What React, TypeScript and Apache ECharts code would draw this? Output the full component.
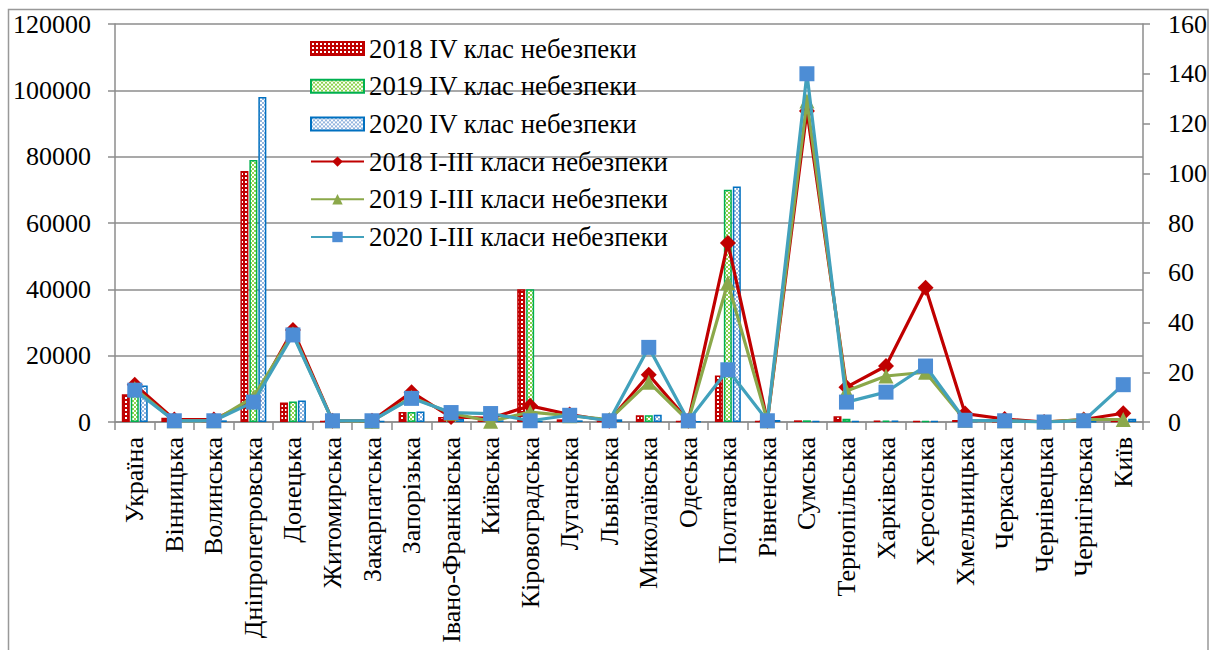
import React, { useEffect, useRef } from "react";
import * as echarts from "echarts";

const categories = [
  "Україна", "Вінницька", "Волинська", "Дніпропетровська", "Донецька", "Житомирська",
  "Закарпатська", "Запорізька", "Івано-Франківська", "Київська", "Кіровоградська",
  "Луганська", "Львівська", "Миколаївська", "Одеська", "Полтавська", "Рівненська",
  "Сумська", "Тернопільська", "Харківська", "Херсонська", "Хмельницька", "Черкаська",
  "Чернівецька", "Чернігівська", "Київ",
];

const bar2018 = [8400, 1300, 300, 75700, 5900, 300, 200, 3000, 1500, 500, 40000, 800, 300, 2000, 300, 14000, 300, 500, 1700, 400, 300, 600, 200, 200, 200, 300];
const bar2019 = [9500, 300, 300, 79000, 6200, 200, 200, 3000, 800, 300, 40000, 500, 300, 2000, 200, 70000, 300, 500, 1000, 400, 300, 300, 200, 200, 200, 300];
const bar2020 = [11000, 500, 500, 98000, 6500, 300, 300, 3200, 1000, 500, 300, 500, 800, 2200, 200, 71000, 600, 300, 300, 400, 300, 300, 200, 200, 200, 1000];

const line2018 = [15, 1, 1, 8.5, 37, 0.5, 0.5, 12, 2, 1.5, 6.5, 3, 0.5, 19, 0.5, 72, 0.5, 125, 14, 22.5, 54, 3.4, 1.2, 0, 1, 3.5];
const line2019 = [13.5, 0.5, 0.5, 10, 35.5, 0.5, 0.3, 10, 3.5, 0.3, 4, 2.5, 1, 16, 0.5, 56, 0.5, 129, 12.5, 18.5, 20, 0.7, 0.5, 0, 1, 1];
const line2020 = [12.8, 0.5, 0.5, 8, 35, 0.5, 0.5, 9.5, 3.8, 3.4, 0.5, 2.7, 0.5, 30, 0.5, 21, 0.5, 140, 8, 12, 22.5, 0.7, 0.5, 0, 0.5, 15];

const leftTicks = { min: 0, max: 120000, interval: 20000 };
const rightTicks = { min: 0, max: 160, interval: 20 };

const seriesNames = [
  "2018 IV клас небезпеки",
  "2019 IV клас небезпеки",
  "2020 IV клас небезпеки",
  "2018 I-III класи небезпеки",
  "2019 I-III класи небезпеки",
  "2020 I-III класи небезпеки",
];

const FONT = "Liberation Serif";
const GRAY = "#8c8c8c";

function makePattern(kind: string, bg: string, fg: string) {
  const c = document.createElement("canvas");
  c.width = 4;
  c.height = 4;
  const ctx = c.getContext("2d")!;
  ctx.fillStyle = bg;
  ctx.fillRect(0, 0, 4, 4);
  ctx.fillStyle = fg;
  if (kind === "dots") {
    ctx.fillRect(1, 1, 2, 2);
  } else {
    ctx.fillRect(0, 0, 2, 2);
    ctx.fillRect(2, 2, 2, 2);
  }
  return { image: c, repeat: "repeat" as const, imageWidth: 4, imageHeight: 4 };
}

export default function App() {
  const ref = useRef<HTMLDivElement>(null);
  useEffect(() => {
    if (!ref.current) return;
    const chart = echarts.init(ref.current, null, { renderer: "svg" });
    const p2018 = makePattern("dots", "#C00000", "#ffffff");
    const p2019 = makePattern("check", "#ffffff", "#8ED24E");
    const p2020 = makePattern("check", "#ffffff", "#93B5DE");

    const barCommon = {
      type: "bar",
      yAxisIndex: 0,
      barWidth: 8,
      barGap: "12%",
      z: 2,
    };
    const lineCommon = {
      type: "line",
      yAxisIndex: 1,
      symbolSize: 15,
      z: 5,
    };
    const numStyle = { fontFamily: FONT, fontSize: 26, color: "#000" };
    const catStyle = { fontFamily: FONT, fontSize: 26, color: "#000" };

    chart.setOption({
      animation: false,
      textStyle: { fontFamily: FONT },
      graphic: [
        {
          type: "polyline",
          shape: { points: [[8.5, 660], [8.5, 9.5], [1208, 9.5], [1208, 660]] },
          style: { stroke: "#999999", lineWidth: 1.5, fill: "none" },
          silent: true,
        },
      ],
      grid: { left: 115, right: 72, top: 24, bottom: 228, containLabel: false },
      legend: {
        orient: "vertical",
        left: 310,
        top: 35,
        padding: 0,
        itemWidth: 53,
        itemHeight: 13,
        itemGap: 10.7,
        textStyle: { ...catStyle, fontSize: 26.8, lineHeight: 26 },
        data: [
          { name: seriesNames[0], icon: "rect" },
          { name: seriesNames[1], icon: "rect" },
          { name: seriesNames[2], icon: "rect" },
          { name: seriesNames[3] },
          { name: seriesNames[4] },
          { name: seriesNames[5] },
        ],
      },
      xAxis: {
        type: "category",
        data: categories,
        boundaryGap: true,
        axisLine: { lineStyle: { color: GRAY, width: 1.5 } },
        axisTick: { show: true, length: 8, lineStyle: { color: GRAY, width: 1.5 } },
        axisLabel: { interval: 0, rotate: 90, margin: 15, ...catStyle },
      },
      yAxis: [
        {
          type: "value",
          ...leftTicks,
          position: "left",
          axisLine: { show: true, lineStyle: { color: GRAY, width: 1.5 } },
          axisTick: { show: true, length: 7, lineStyle: { color: GRAY, width: 1.5 } },
          axisLabel: { margin: 24, ...numStyle, formatter: (v: number) => String(v) },
          splitLine: { show: true, lineStyle: { color: GRAY, width: 1.5 } },
        },
        {
          type: "value",
          ...rightTicks,
          position: "right",
          axisLine: { show: true, lineStyle: { color: GRAY, width: 1.5 } },
          axisTick: { show: true, length: 7, lineStyle: { color: GRAY, width: 1.5 } },
          axisLabel: { margin: 25, ...numStyle, formatter: (v: number) => String(v) },
          splitLine: { show: false },
        },
      ],
      series: [
        {
          ...barCommon,
          name: seriesNames[0],
          data: bar2018,
          itemStyle: { color: p2018, borderColor: "#C00000", borderWidth: 1.5 },
        },
        {
          ...barCommon,
          name: seriesNames[1],
          data: bar2019,
          itemStyle: { color: p2019, borderColor: "#00B050", borderWidth: 1.5 },
        },
        {
          ...barCommon,
          name: seriesNames[2],
          data: bar2020,
          itemStyle: { color: p2020, borderColor: "#0070C0", borderWidth: 1.5 },
        },
        {
          ...lineCommon,
          name: seriesNames[3],
          data: line2018,
          symbol: "diamond",
          symbolSize: 16,
          lineStyle: { color: "#C00000", width: 3.2 },
          itemStyle: { color: "#C00000" },
          z: 5,
        },
        {
          ...lineCommon,
          name: seriesNames[4],
          data: line2019,
          symbol: "triangle",
          lineStyle: { color: "#8BA84A", width: 3.2 },
          itemStyle: { color: "#8BA84A" },
          z: 6,
        },
        {
          ...lineCommon,
          name: seriesNames[5],
          data: line2020,
          symbol: "rect",
          lineStyle: { color: "#42A1BC", width: 3.2 },
          itemStyle: { color: "#4D8DD5" },
          z: 7,
        },
      ],
    });
    return () => chart.dispose();
  }, []);

  return (
    <div
      ref={ref}
      style={{ position: "fixed", left: 0, top: 0, width: 1215, height: 650, background: "#fff" }}
    />
  );
}
